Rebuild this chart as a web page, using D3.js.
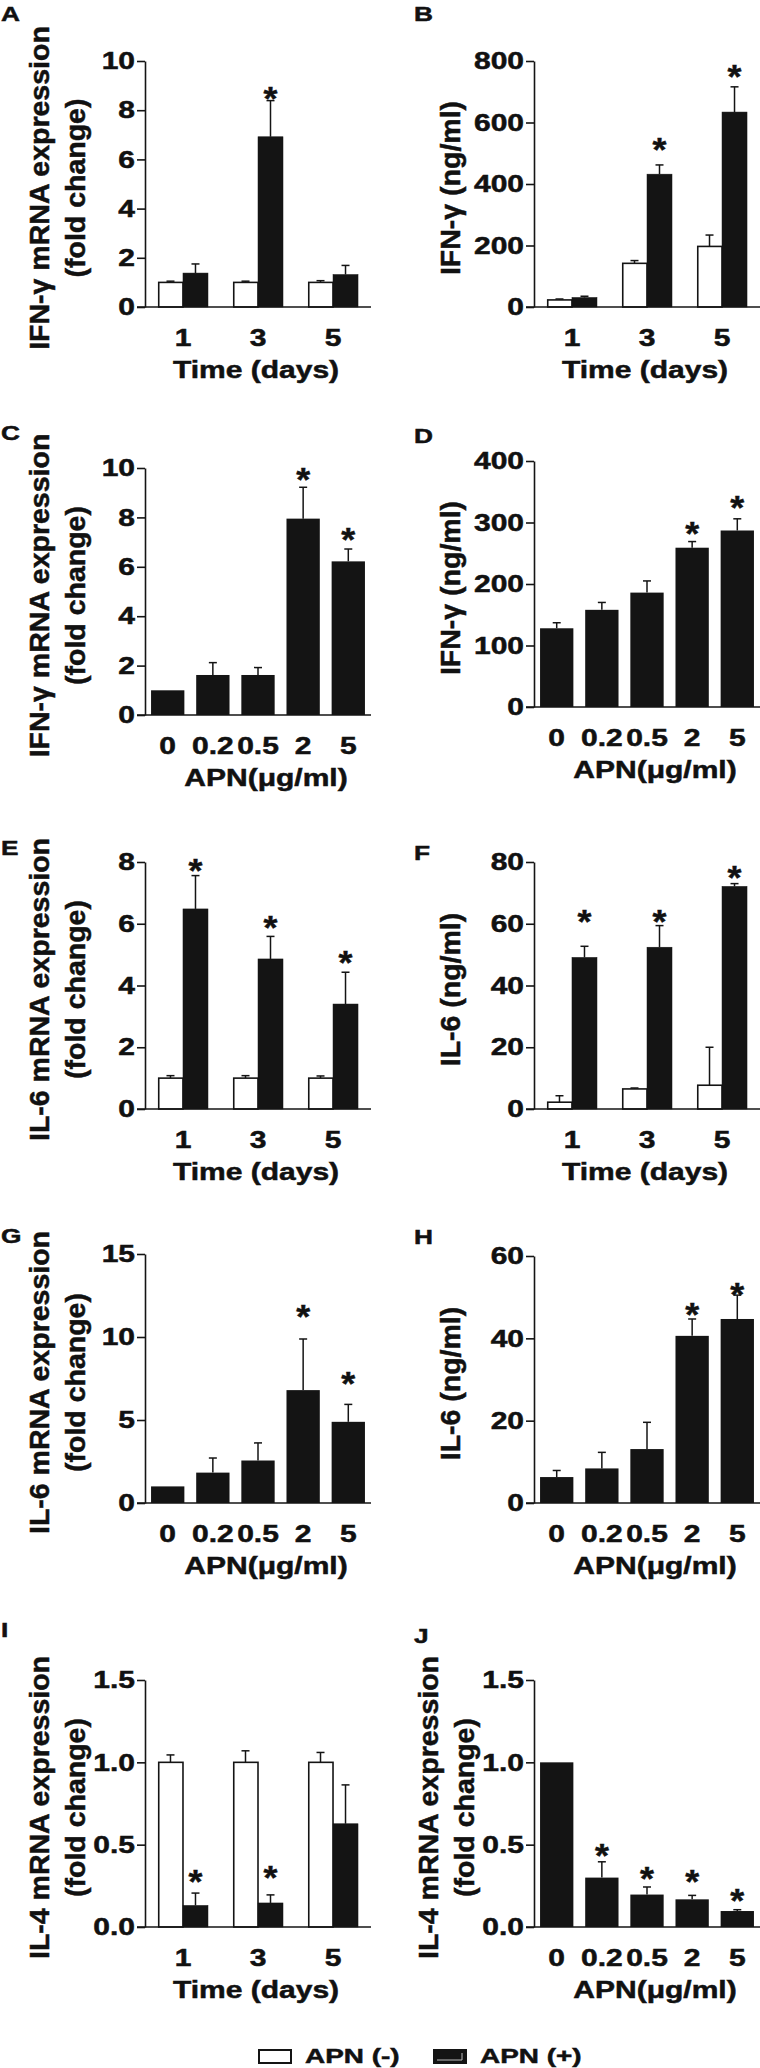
<!DOCTYPE html>
<html><head><meta charset="utf-8">
<script src="https://cdnjs.cloudflare.com/ajax/libs/d3/7.8.5/d3.min.js"></script>
<style>
body{margin:0;background:#fff;}
svg text{font-family:"Liberation Sans",Arial,Helvetica,sans-serif;font-weight:bold;fill:#111;stroke:#111;stroke-width:0.5px;}
</style></head><body><svg id="chart" width="760" height="2068"></svg>
<script>
// ---------- data ----------
const timeCats = ["1","3","5"];
const doseCats = ["0","0.2","0.5","2","5"];
const seriesNames = ["APN (-)","APN (+)"];
const timeTitle = "Time (days)";
const doseTitle = "APN(\u03bcg/ml)";

const labelIfnMrna = ["IFN-\u03b3 mRNA expression","(fold change)"];
const labelIfnProt = ["IFN-\u03b3 (ng/ml)"];
const labelIl6Mrna = ["IL-6 mRNA expression","(fold change)"];
const labelIl6Prot = ["IL-6 (ng/ml)"];
const labelIl4Mrna = ["IL-4 mRNA expression","(fold change)"];

// A: IFN-γ mRNA vs time
const A_ticks = [0,2,4,6,8,10];
const A_neg = [1.0,1.0,1.0];      const A_negErr = [0.05,0.05,0.07];
const A_pos = [1.38,6.92,1.32];   const A_posErr = [0.37,1.47,0.37];
const A_star = [null,8.8,null];
// B: IFN-γ protein vs time
const B_ticks = [0,200,400,600,800];
const B_neg = [23,142,197];       const B_negErr = [3,9,37];
const B_pos = [31,432,634];       const B_posErr = [4,30,82];
const B_star = [null,538,776];
// C: IFN-γ mRNA vs dose
const C_ticks = [0,2,4,6,8,10];
const C_val = [1.0,1.62,1.62,7.95,6.22]; const C_err = [0,0.5,0.3,1.27,0.5];
const C_star = [null,null,null,9.86,7.43];
// D: IFN-γ protein vs dose
const D_ticks = [0,100,200,300,400];
const D_val = [128,158,186,259,287]; const D_err = [9,12,19,10,19];
const D_star = [null,null,null,296,337];
// E: IL-6 mRNA vs time
const E_ticks = [0,2,4,6,8];
const E_neg = [1.0,1.0,1.0];      const E_negErr = [0.08,0.08,0.07];
const E_pos = [6.48,4.86,3.40];   const E_posErr = [1.08,0.73,1.03];
const E_star = [7.99,6.13,5.0];
// F: IL-6 protein vs time
const F_ticks = [0,20,40,60,80];
const F_neg = [2.2,6.5,7.7];      const F_negErr = [2.1,0.3,12.3];
const F_pos = [49.1,52.4,72.1];   const F_posErr = [3.6,7.0,0.9];
const F_star = [63.5,63.5,77.8];
// G: IL-6 mRNA vs dose
const G_ticks = [0,5,10,15];
const G_val = [1.0,1.83,2.56,6.8,4.89]; const G_err = [0,0.88,1.06,3.08,1.05];
const G_star = [null,null,null,11.73,7.7];
// H: IL-6 protein vs dose
const H_ticks = [0,20,40,60];
const H_val = [6.3,8.4,13.1,40.6,44.7]; const H_err = [1.6,3.9,6.5,4.1,5.8];
const H_star = [null,null,null,47.7,52.6];
// I: IL-4 mRNA vs time
const I_ticks = [0,0.5,1.0,1.5];
const I_neg = [1.0,1.0,1.0];      const I_negErr = [0.045,0.07,0.06];
const I_pos = [0.131,0.146,0.627]; const I_posErr = [0.075,0.049,0.236];
const I_star = [0.327,0.348,null];
// J: IL-4 mRNA vs dose
const J_ticks = [0,0.5,1.0,1.5];
const J_val = [1.0,0.30,0.197,0.168,0.097]; const J_err = [0,0.096,0.046,0.024,0.008];
const J_star = [null,0.487,0.345,0.325,0.213];

// ---------- panel table built from the arrays ----------
const panels = [
 {id:"A", col:0, top:61,   bottom:307,  ly:21,   kind:"time", ticks:A_ticks, fmt:"d", label:labelIfnMrna, neg:A_neg, negErr:A_negErr, pos:A_pos, posErr:A_posErr, star:A_star},
 {id:"B", col:1, top:61,   bottom:307,  ly:21,   kind:"time", ticks:B_ticks, fmt:"d", label:labelIfnProt, neg:B_neg, negErr:B_negErr, pos:B_pos, posErr:B_posErr, star:B_star},
 {id:"C", col:0, top:468,  bottom:715,  ly:440,  kind:"dose", ticks:C_ticks, fmt:"d", label:labelIfnMrna, val:C_val, err:C_err, star:C_star},
 {id:"D", col:1, top:461,  bottom:707,  ly:443,  kind:"dose", ticks:D_ticks, fmt:"d", label:labelIfnProt, val:D_val, err:D_err, star:D_star},
 {id:"E", col:0, top:862,  bottom:1109, ly:855,  kind:"time", ticks:E_ticks, fmt:"d", label:labelIl6Mrna, neg:E_neg, negErr:E_negErr, pos:E_pos, posErr:E_posErr, star:E_star},
 {id:"F", col:1, top:862,  bottom:1109, ly:860,  kind:"time", ticks:F_ticks, fmt:"d", label:labelIl6Prot, neg:F_neg, negErr:F_negErr, pos:F_pos, posErr:F_posErr, star:F_star},
 {id:"G", col:0, top:1254, bottom:1503, ly:1243, kind:"dose", ticks:G_ticks, fmt:"d", label:labelIl6Mrna, val:G_val, err:G_err, star:G_star},
 {id:"H", col:1, top:1256, bottom:1503, ly:1244, kind:"dose", ticks:H_ticks, fmt:"d", label:labelIl6Prot, val:H_val, err:H_err, star:H_star},
 {id:"I", col:0, top:1680, bottom:1927, ly:1637, kind:"time", ticks:I_ticks, fmt:".1f", label:labelIl4Mrna, neg:I_neg, negErr:I_negErr, pos:I_pos, posErr:I_posErr, star:I_star},
 {id:"J", col:1, top:1680, bottom:1927, ly:1643, kind:"dose", ticks:J_ticks, fmt:".1f", label:labelIl4Mrna, val:J_val, err:J_err, star:J_star}
];

const svg = d3.select("#chart");
const INK = "#141414";
const SX = 1.25;        // horizontal stretch of horizontal text
const TXT = 24;         // horizontal text size
const STAR = 34;

function hText(g, x, y, str, size, anchor, sx) {
  return g.append("text")
    .attr("transform", `translate(${x},${y}) scale(${sx},1)`)
    .attr("text-anchor", anchor)
    .style("font-size", size + "px")
    .text(str);
}

function errBar(g, cx, y0, y1) {
  g.append("line").attr("x1", cx).attr("x2", cx).attr("y1", y0).attr("y2", y1)
    .attr("stroke", INK).attr("stroke-width", 1.5);
  g.append("line").attr("x1", cx - 4).attr("x2", cx + 4).attr("y1", y1).attr("y2", y1)
    .attr("stroke", INK).attr("stroke-width", 1.5);
}

panels.forEach(p => {
  const ax = p.col ? 534 : 145;
  const xEnd = p.col ? 760 : 371;
  const g = svg.append("g");

  const y = d3.scaleLinear().domain([0, d3.max(p.ticks)]).range([p.bottom, p.top]);

  let xOuter, xInner;
  if (p.kind === "time") {
    xOuter = d3.scaleBand().domain(timeCats).range([ax, ax + 226]).paddingInner(1/3).paddingOuter(0.173);
    xInner = d3.scaleBand().domain(seriesNames).range([0, xOuter.bandwidth()]);
  } else {
    xOuter = d3.scaleBand().domain(doseCats).range([ax, ax + 226]).paddingInner(0.262).paddingOuter(0.134);
  }

  // bars
  if (p.kind === "time") {
    timeCats.forEach((c, i) => {
      const series = [[p.neg[i], p.negErr[i], "#fff"], [p.pos[i], p.posErr[i], INK]];
      series.forEach((s, k) => {
        const x0 = xOuter(c) + xInner(seriesNames[k]);
        const w = xInner.bandwidth();
        const cx = x0 + w / 2;
        if (s[1] > 0) errBar(g, cx, y(s[0]), y(s[0] + s[1]));
        g.append("rect").attr("x", x0 + (k === 0 ? 0.75 : 0)).attr("y", y(s[0]))
          .attr("width", w - (k === 0 ? 0.75 : 0)).attr("height", y(0) - y(s[0]))
          .attr("fill", s[2]).attr("stroke", INK).attr("stroke-width", k === 0 ? 1.6 : 0.5);
        if (k === 1 && p.star[i] != null) {
          hText(g, cx, y(p.star[i]) + 0.58 * STAR, "*", STAR, "middle", 1.05);
        }
      });
    });
  } else {
    doseCats.forEach((c, i) => {
      const x0 = xOuter(c), w = xOuter.bandwidth(), cx = x0 + w / 2;
      if (p.err[i] > 0) errBar(g, cx, y(p.val[i]), y(p.val[i] + p.err[i]));
      g.append("rect").attr("x", x0).attr("y", y(p.val[i]))
        .attr("width", w).attr("height", y(0) - y(p.val[i]))
        .attr("fill", INK);
      if (p.star[i] != null) {
        hText(g, cx, y(p.star[i]) + 0.58 * STAR, "*", STAR, "middle", 1.05);
      }
    });
  }

  // y axis
  const yAxis = d3.axisLeft(y).tickValues(p.ticks).tickSize(8).tickSizeOuter(0)
    .tickFormat(d3.format(p.fmt));
  const ga = g.append("g").attr("transform", `translate(${ax},0)`).call(yAxis);
  ga.selectAll("path,line").attr("stroke", INK).attr("stroke-width", 1.6);
  ga.selectAll("text").attr("x", 0)
    .attr("transform", `translate(-10,0) scale(${SX},1)`)
    .style("font-size", TXT + "px").attr("fill", "#111");

  // x axis (line + category labels)
  g.append("line").attr("x1", ax - 8).attr("x2", xEnd).attr("y1", y(0)).attr("y2", y(0))
    .attr("stroke", INK).attr("stroke-width", 1.6);
  const xAxis = d3.axisBottom(xOuter).tickSize(0).tickPadding(22);
  const gx = g.append("g").attr("transform", `translate(0,${y(0)})`).call(xAxis);
  gx.select(".domain").remove();
  gx.selectAll("text").attr("transform", `scale(${SX},1)`).attr("x", 0)
    .style("font-size", TXT + "px").attr("fill", "#111");

  // x title
  if (p.kind === "time") hText(g, ax + 111, p.bottom + 71, timeTitle, TXT, "middle", SX);
  else hText(g, ax + 121, p.bottom + 71, doseTitle, TXT, "middle", SX);

  // y title (rotated)
  const cy = (p.top + p.bottom) / 2 + 4;
  if (p.label.length === 2) {
    [ax - 96, ax - 60].forEach((bx, k) => {
      g.append("text").attr("transform", `translate(${bx},${cy}) rotate(-90)`)
        .attr("text-anchor", "middle").style("font-size", "28.5px").text(p.label[k]);
    });
  } else {
    g.append("text").attr("transform", `translate(${ax - 74},${cy}) rotate(-90)`)
      .attr("text-anchor", "middle").style("font-size", "28.5px").text(p.label[0]);
  }

  // panel letter
  hText(g, p.col ? 414 : 1, p.ly, p.id, 21, "start", 1.25);
});

// legend
const lg = svg.append("g");
const legendX = [259, 434];
seriesNames.forEach((name, k) => {
  const x = legendX[k];
  lg.append("rect").attr("x", x).attr("y", 2050).attr("width", 32).attr("height", 13)
    .attr("fill", k === 0 ? "#fff" : INK).attr("stroke", INK).attr("stroke-width", 2);
  if (k === 1) {
    lg.append("polyline").attr("points", `${x+3},${2060} ${x+28},${2060} ${x+28},${2053}`)
      .attr("fill", "none").attr("stroke", "#bbb").attr("stroke-width", 1);
  }
  hText(lg, x + 46, 2063, name, 21, "start", 1.33);
});
</script></body></html>
